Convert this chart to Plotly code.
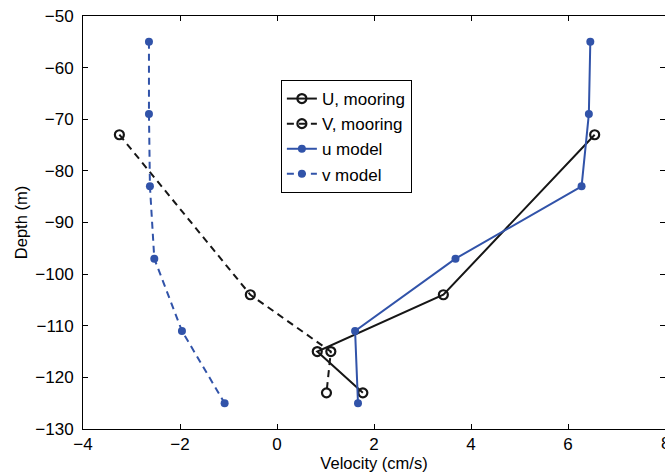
import plotly.graph_objects as go

# Mooring observations
U_moor_x = [6.55, 3.43, 0.83, 1.77]
U_moor_y = [-73, -104, -115, -123]
V_moor_x = [-3.25, -0.55, 1.11, 1.02]
V_moor_y = [-73, -104, -115, -123]

# Model
u_model_x = [6.46, 6.43, 6.28, 3.68, 1.61, 1.67]
u_model_y = [-55, -69, -83, -97, -111, -125]
v_model_x = [-2.64, -2.64, -2.62, -2.53, -1.96, -1.08]
v_model_y = [-55, -69, -83, -97, -111, -125]

xticks = [-4, -2, 0, 2, 4, 6, 8]
yticks = [-130, -120, -110, -100, -90, -80, -70, -60, -50]

BLACK = "#161616"
BLUE = "#3153a9"
DASH = "7px,5px"
FONT = "Liberation Sans, Arial, sans-serif"


def lab(v):
    return f"\u2212{abs(v)}" if v < 0 else str(v)


fig = go.Figure()
fig.add_trace(go.Scatter(x=U_moor_x, y=U_moor_y, mode="lines+markers", name="U, mooring",
                         line=dict(color=BLACK, width=2),
                         marker=dict(symbol="circle-open", size=9, color=BLACK, line=dict(width=2.2))))
fig.add_trace(go.Scatter(x=V_moor_x, y=V_moor_y, mode="lines+markers", name="V, mooring",
                         line=dict(color=BLACK, width=2, dash=DASH),
                         marker=dict(symbol="circle-open", size=9, color=BLACK, line=dict(width=2.2))))
fig.add_trace(go.Scatter(x=u_model_x, y=u_model_y, mode="lines+markers", name="u model",
                         line=dict(color=BLUE, width=2),
                         marker=dict(symbol="circle", size=8, color=BLUE)))
fig.add_trace(go.Scatter(x=v_model_x, y=v_model_y, mode="lines+markers", name="v model",
                         line=dict(color=BLUE, width=2, dash=DASH),
                         marker=dict(symbol="circle", size=8, color=BLUE)))

axis_common = dict(showgrid=False, zeroline=False, showline=True, linecolor="black", linewidth=1,
                   mirror="ticks", ticks="inside", ticklen=5, tickcolor="black",
                   tickfont=dict(family=FONT, size=17, color="black"),
                   title_font=dict(family=FONT, size=16.5, color="black"))

fig.update_xaxes(range=[-4, 8], tickvals=xticks[:-1], ticktext=[lab(v) for v in xticks[:-1]],
                 title_text="Velocity (cm/s)", title_standoff=0, **axis_common)
fig.update_yaxes(range=[-130, -50], tickvals=yticks, ticktext=[lab(v) for v in yticks],
                 title_text="Depth (m)", title_standoff=3, ticklabelstandoff=5, **axis_common)

# last x tick label (at the clipped right edge, as in the reference)
fig.add_annotation(x=xticks[-1], y=0, xref="x", yref="paper", text=lab(xticks[-1]),
                   showarrow=False, yanchor="top", yshift=-3,
                   font=dict(family=FONT, size=17, color="black"))

fig.update_layout(
    width=665, height=473,
    margin=dict(l=83, r=0, t=16, b=44),
    plot_bgcolor="white", paper_bgcolor="white",
    font=dict(family=FONT, size=17, color="black"),
    legend=dict(x=0.340, y=0.845, xanchor="left", yanchor="top",
                bordercolor="black", borderwidth=1, bgcolor="white",
                entrywidth=105, entrywidthmode="pixels",
                font=dict(size=17, color="black")),
)

fig.write_html("out.html")
